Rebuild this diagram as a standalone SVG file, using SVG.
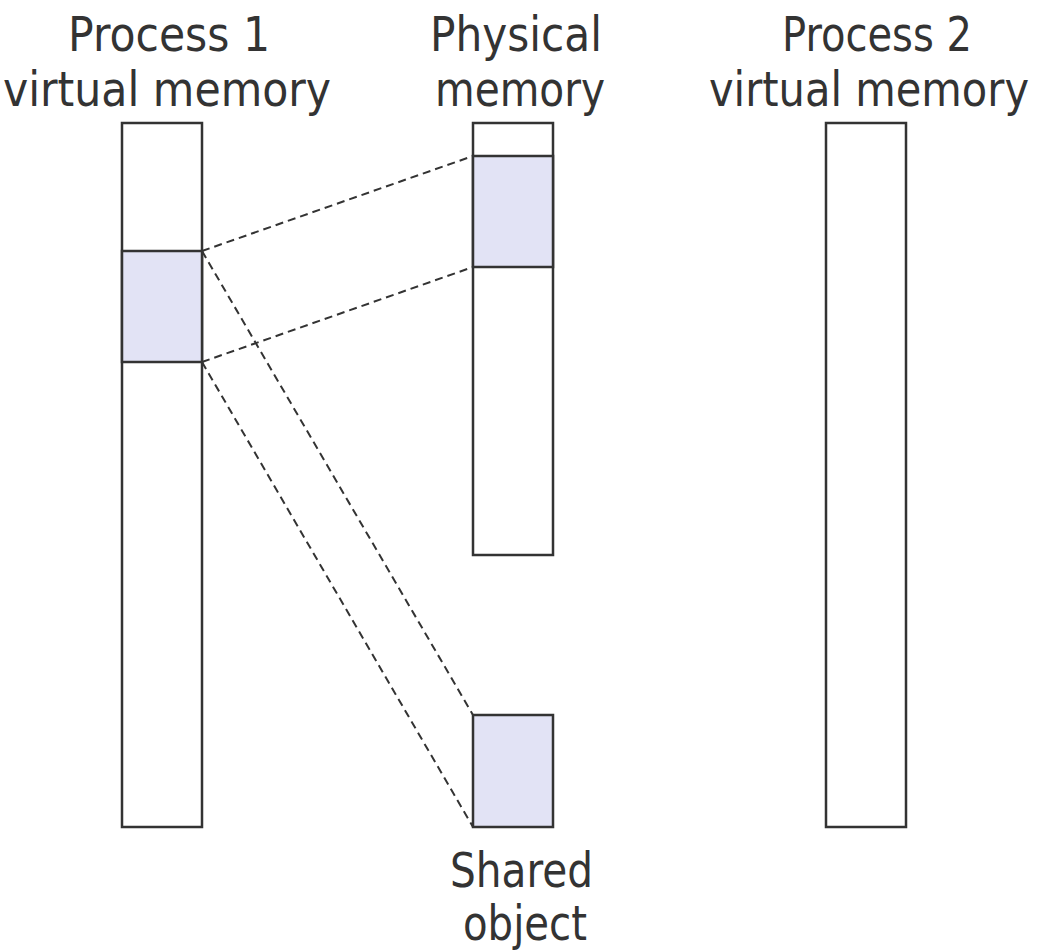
<svg xmlns="http://www.w3.org/2000/svg" width="1040" height="951" viewBox="0 0 1040 951">
  <style>
    .box { fill: #ffffff; stroke: #333333; stroke-width: 2.5; }
    .seg { fill: #e2e3f5; stroke: #333333; stroke-width: 2.5; }
    .label { font-family: "DejaVu Sans", "Liberation Sans", sans-serif; font-size: 48px; fill: #333333; }
    .map { fill: none; stroke: #333333; stroke-width: 2; stroke-dasharray: 8 5; }
  </style>
  <rect width="1040" height="951" fill="#ffffff"/>

  <!-- address-space mappings -->
  <g id="connectors">
    <line class="map" x1="202" y1="251" x2="473" y2="156"/>
    <line class="map" x1="202" y1="362" x2="473" y2="267"/>
    <line class="map" x1="202" y1="251" x2="473" y2="715"/>
    <line class="map" x1="202" y1="362" x2="473" y2="827"/>
  </g>

  <g id="process1">
    <rect class="box" x="122" y="123" width="80" height="704"/>
    <rect class="seg" x="122" y="251" width="80" height="111"/>
    <text class="label" x="68" y="51" textLength="202" lengthAdjust="spacingAndGlyphs">Process 1</text>
    <text class="label" x="3" y="106" textLength="328" lengthAdjust="spacingAndGlyphs">virtual memory</text>
  </g>

  <g id="physical">
    <rect class="box" x="473" y="123" width="80" height="432"/>
    <rect class="seg" x="473" y="156" width="80" height="111"/>
    <text class="label" x="430" y="51" textLength="172" lengthAdjust="spacingAndGlyphs">Physical</text>
    <text class="label" x="435" y="106" textLength="170" lengthAdjust="spacingAndGlyphs">memory</text>
  </g>

  <g id="shared-object">
    <rect class="seg" x="473" y="715" width="80" height="112"/>
    <text class="label" x="450" y="887" textLength="143" lengthAdjust="spacingAndGlyphs">Shared</text>
    <text class="label" x="463" y="940" textLength="124" lengthAdjust="spacingAndGlyphs">object</text>
  </g>

  <g id="process2">
    <rect class="box" x="826" y="123" width="80" height="704"/>
    <text class="label" x="782" y="51" textLength="190" lengthAdjust="spacingAndGlyphs">Process 2</text>
    <text class="label" x="709" y="106" textLength="320" lengthAdjust="spacingAndGlyphs">virtual memory</text>
  </g>
</svg>
